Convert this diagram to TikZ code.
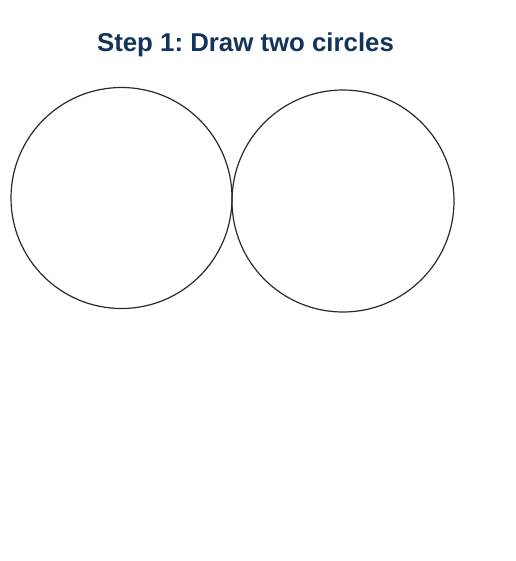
\documentclass[tikz,border=0pt]{standalone}
\usepackage{fontspec}
\setmainfont{Liberation Sans}
\frenchspacing
\definecolor{titleblue}{HTML}{13345A}
\definecolor{ringgray}{HTML}{2A2A2A}
\begin{document}
\begin{tikzpicture}[x=1pt,y=-1pt,
  ring/.style={draw=ringgray,line width=1.2pt,circle,inner sep=0pt},
  titletext/.style={font=\fontsize{25.8}{30}\selectfont\bfseries,text=titleblue,anchor=base,inner sep=0pt}]
\useasboundingbox[fill=white] (0,0) rectangle (515,561);
\node[titletext] (title) at (245.5,51.5) {Step 1: Draw two circles};
\node[ring,minimum size=221pt] (left) at (121.5,198) {};
\node[ring,minimum size=222pt] (right) at (343,201) {};
\end{tikzpicture}
\end{document}
